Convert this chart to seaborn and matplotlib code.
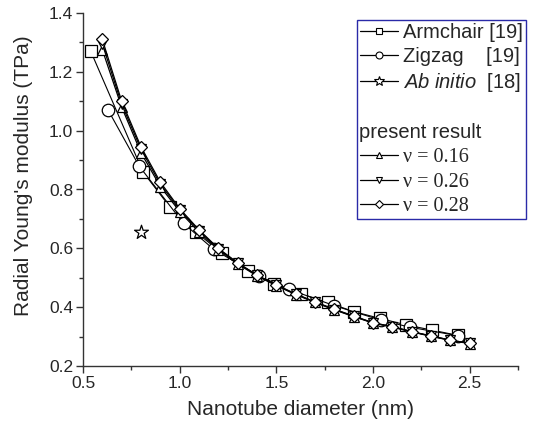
import matplotlib
matplotlib.use("Agg")
import matplotlib.pyplot as plt
from matplotlib.lines import Line2D
from matplotlib.ticker import MultipleLocator
import seaborn as sns

# ---- data ----
arm_d = [0.54, 0.81, 0.95, 1.085, 1.22, 1.355, 1.49, 1.63, 1.765, 1.90, 2.035, 2.17, 2.305, 2.44]
arm_E = [1.27, 0.86, 0.74, 0.655, 0.583, 0.523, 0.48, 0.445, 0.416, 0.385, 0.362, 0.340, 0.322, 0.304]

zig_d = [0.63, 0.79, 1.02, 1.175, 1.41, 1.565, 1.80, 2.04, 2.19, 2.44]
zig_E = [1.07, 0.88, 0.685, 0.597, 0.506, 0.461, 0.405, 0.356, 0.332, 0.303]

abinit_d = [0.80]
abinit_E = [0.655]

nu_d = [0.6, 0.7, 0.8, 0.9, 1.0, 1.1, 1.2, 1.3, 1.4, 1.5, 1.6, 1.7, 1.8, 1.9, 2.0, 2.1, 2.2, 2.3, 2.4, 2.5]
E_nu016 = [1.275, 1.08, 0.925, 0.81, 0.725, 0.655, 0.595, 0.547, 0.506, 0.473, 0.443, 0.416, 0.391, 0.368, 0.346, 0.332, 0.316, 0.301, 0.287, 0.276]
E_nu026 = [1.295, 1.09, 0.937, 0.818, 0.731, 0.660, 0.598, 0.549, 0.508, 0.475, 0.444, 0.417, 0.392, 0.369, 0.347, 0.333, 0.317, 0.302, 0.288, 0.277]
E_nu028 = [1.31, 1.10, 0.945, 0.825, 0.735, 0.663, 0.600, 0.551, 0.509, 0.476, 0.445, 0.418, 0.393, 0.370, 0.347, 0.334, 0.317, 0.302, 0.288, 0.277]

labels = ["Armchair [19]", "Zigzag    [19]", r"$\mathit{Ab\ initio}$  [18]",
          " ", " ", "\u03bd = 0.16", "\u03bd = 0.26", "\u03bd = 0.28"]
present_label = "present result"
xlabel = "Nanotube diameter (nm)"
ylabel = "Radial Young's modulus (TPa)"

# ---- style ----
sns.set_style("ticks")
plt.rcParams["font.family"] = ["Liberation Sans", "DejaVu Sans"]
plt.rcParams["mathtext.fontset"] = "custom"
plt.rcParams["mathtext.it"] = "Liberation Sans:italic"
plt.rcParams["mathtext.rm"] = "Liberation Sans"

W, H = 539, 436
fig = plt.figure(figsize=(W / 100, H / 100), dpi=100)
ax = fig.add_axes([83 / W, 1 - 366 / H, 435 / W, 353 / H])

mk = dict(color="black", markerfacecolor="white", markeredgecolor="black",
          markeredgewidth=0.9)

sns.lineplot(x=arm_d, y=arm_E, ax=ax, marker="s", markersize=8, linewidth=0.8, sort=False, **mk)
sns.lineplot(x=zig_d, y=zig_E, ax=ax, marker="o", markersize=9, linewidth=0.8, sort=False, **mk)
sns.lineplot(x=nu_d, y=E_nu016, ax=ax, marker="^", markersize=7, linewidth=0.9, sort=False, **mk)
sns.lineplot(x=nu_d, y=E_nu026, ax=ax, marker="v", markersize=7, linewidth=0.9, sort=False, **mk)
sns.lineplot(x=nu_d, y=E_nu028, ax=ax, marker="D", markersize=6, linewidth=0.9, sort=False, **mk)
sns.scatterplot(x=abinit_d, y=abinit_E, ax=ax, marker="*", s=110, color="white",
                edgecolor="black", linewidth=0.9, zorder=5)

ax.set_xlim(0.5, 2.75)
ax.set_ylim(0.2, 1.4)
ax.xaxis.set_major_locator(MultipleLocator(0.5))
ax.xaxis.set_minor_locator(MultipleLocator(0.25))
ax.yaxis.set_major_locator(MultipleLocator(0.2))
ax.yaxis.set_minor_locator(MultipleLocator(0.1))
ax.tick_params(which="major", direction="out", length=5, width=1, labelsize=12.5,
               color="#333333", pad=2)
ax.tick_params(which="minor", direction="out", length=3, width=1, color="#333333")
for s in ["top", "right"]:
    ax.spines[s].set_visible(False)
for s in ["left", "bottom"]:
    ax.spines[s].set_color("#333333")
    ax.spines[s].set_linewidth(1.0)
ax.set_xlabel(xlabel, fontsize=15, labelpad=7)
ax.set_ylabel(ylabel, fontsize=15)
ax.yaxis.set_label_coords((24 - 83) / 435, (366 - 176) / 353)
ax.yaxis.label.set_va("center")

# ---- legend ----
hk = dict(color="black", markerfacecolor="white", markeredgecolor="black",
          markeredgewidth=0.8, linewidth=0.9)
handles = [
    Line2D([], [], marker="s", markersize=5, **hk),
    Line2D([], [], marker="o", markersize=5, **hk),
    Line2D([], [], marker="*", markersize=7, **hk),
    Line2D([], [], linestyle="none"),
    Line2D([], [], linestyle="none"),
    Line2D([], [], marker="^", markersize=5, **hk),
    Line2D([], [], marker="v", markersize=5, **hk),
    Line2D([], [], marker="D", markersize=4.5, **hk),
]
leg = ax.legend(handles, labels, loc="upper left",
                bbox_to_anchor=(357 / W, 1 - 219 / H, 169 / W, 199 / H),
                bbox_transform=fig.transFigure, mode="expand", borderaxespad=0,
                fontsize=14.5, frameon=True, fancybox=False, borderpad=0.15,
                labelspacing=0.26, handlelength=1.9, handletextpad=0.25)
leg.get_frame().set_edgecolor("#2a2aa8")
leg.get_frame().set_linewidth(1.0)
leg.get_frame().set_facecolor("white")
leg.get_frame().set_alpha(1)
texts = leg.get_texts()
for i in (5, 6, 7):
    texts[i].set_fontfamily(["Liberation Serif", "DejaVu Serif"])
    texts[i].set_fontsize(14.5)

fig.canvas.draw()
r = fig.canvas.get_renderer()
b2 = texts[2].get_window_extent(r)
b5 = texts[5].get_window_extent(r)
yc2 = (b2.y0 + b2.y1) / 2
yc5 = (b5.y0 + b5.y1) / 2
y4 = yc5 + (yc2 - yc5) / 3
fb = leg.get_frame().get_window_extent(r)
fig.text((fb.x0 + 2) / W, y4 / H, present_label, fontsize=14.5, ha="left", va="center")

fig.savefig("out.png", dpi=100)
